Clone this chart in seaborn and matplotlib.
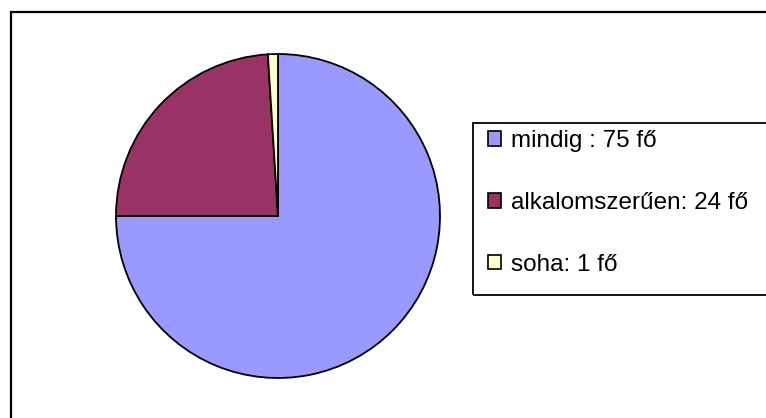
import matplotlib
matplotlib.use('Agg')
import matplotlib.pyplot as plt
import seaborn as sns
from matplotlib.patches import Patch, Rectangle

sns.set_theme(style='white')
plt.rcParams['font.family'] = ['Liberation Sans', 'DejaVu Sans']
plt.rcParams['text.color'] = 'black'

# adatok
kategoriak = ['mindig', 'alkalomszerűen', 'soha']
letszam = [75, 24, 1]
cimkek = ['mindig : 75 fő', 'alkalomszerűen: 24 fő', 'soha: 1 fő']
szinek = ['#9999FF', '#993366', '#FFFFCC']

W, H = 766, 418
fig = plt.figure(figsize=(W / 100, H / 100), dpi=100)
fig.patch.set_facecolor('white')

# kulso keret (jobb es also oldal kilog)
fig.patches.append(Rectangle((11 / W, -0.1), 1.0, 1 - 12 / H + 0.1,
                             transform=fig.transFigure, fill=False,
                             edgecolor='black', linewidth=1.6))

# kordiagram
ax = fig.add_axes([116 / W, (H - 378) / H, 324 / W, 324 / H])
ax.pie(letszam, colors=szinek, startangle=90, counterclock=False,
       wedgeprops={'edgecolor': 'black', 'linewidth': 1.3})
ax.set_xlim(-1, 1)
ax.set_ylim(-1, 1)
ax.set_aspect('equal')
ax.axis('off')

# jelmagyarazat kerete
fig.patches.append(Rectangle((473 / W, (H - 295) / H), 0.5, (295 - 123) / H,
                             transform=fig.transFigure, fill=False,
                             edgecolor='black', linewidth=1.3))

kezelok = [Patch(facecolor=c, edgecolor='black', linewidth=1.2) for c in szinek]
leg = fig.legend(kezelok, cimkek, loc='center left',
                 bbox_to_anchor=(488 / W, 1 - 203 / H),
                 frameon=False, fontsize=17.5, borderpad=0, borderaxespad=0,
                 handlelength=0.55, handleheight=0.55, handletextpad=0.38,
                 labelspacing=1.63)
for t in leg.get_texts():
    t.set_color('black')

plt.savefig('out.png', dpi=100)
